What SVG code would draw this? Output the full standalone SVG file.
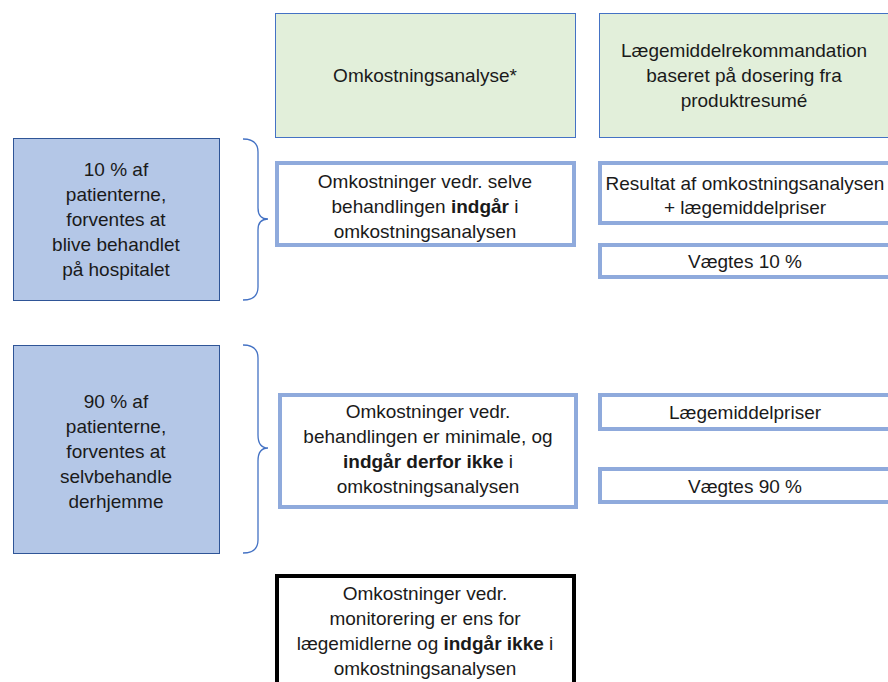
<svg xmlns="http://www.w3.org/2000/svg" width="888" height="682" viewBox="0 0 888 682">
<style>
text{font-family:"Liberation Sans",Arial,sans-serif;font-size:19px;fill:#1a1a1a;text-anchor:middle}
.b{font-weight:bold}
.green{fill:#e2efda;stroke:#4472c4;stroke-width:1}
.left{fill:#b4c7e7;stroke:#2f5597;stroke-width:1}
.thick{fill:#fff;stroke:#8faadc;stroke-width:4}
.black{fill:#fff;stroke:#000;stroke-width:4}
.brace{fill:none;stroke:#4472c4;stroke-width:1.3}
</style>
<rect width="888" height="682" fill="#fff"/>
<g id="header1"><rect class="green" x="275.5" y="13.5" width="300" height="124"/><text x="425" y="82">Omkostningsanalyse*</text></g>
<g id="header2"><rect class="green" x="599.5" y="13.5" width="300" height="124"/><text x="744" y="57">Lægemiddelrekommandation</text><text x="744" y="82">baseret på dosering fra</text><text x="744" y="107">produktresumé</text></g>
<g id="group10"><rect class="left" x="13.5" y="138.5" width="206" height="162"/><text x="116" y="176">10 % af</text><text x="116" y="201">patienterne,</text><text x="116" y="226">forventes at</text><text x="116" y="251">blive behandlet</text><text x="116" y="276">på hospitalet</text></g>
<g id="group90"><rect class="left" x="13.5" y="345.5" width="206" height="208"/><text x="116" y="408">90 % af</text><text x="116" y="433">patienterne,</text><text x="116" y="458">forventes at</text><text x="116" y="483">selvbehandle</text><text x="116" y="508">derhjemme</text></g>
<g id="connectors">
<path class="brace" d="M243 139 Q258 139 258 152 L258 208 Q258 219 268 219 Q258 219 258 230 L258 287 Q258 300 243 300"/>
<path class="brace" d="M243 345 Q258 345 258 358 L258 435 Q258 448 268 448 Q258 448 258 461 L258 540 Q258 553 243 553"/>
</g>
<g id="cost10"><rect class="thick" x="277" y="163" width="297" height="82"/><text x="425" y="188">Omkostninger vedr. selve</text><text x="425" y="213">behandlingen <tspan class="b">indgår</tspan> i</text><text x="425" y="238">omkostningsanalysen</text></g>
<g id="result10"><rect class="thick" x="600" y="163" width="300" height="60"/><text x="745" y="190">Resultat af omkostningsanalysen</text><text x="745" y="214">+ lægemiddelpriser</text></g>
<g id="weight10"><rect class="thick" x="600" y="245" width="300" height="32"/><text x="745" y="268">Vægtes 10 %</text></g>
<g id="cost90"><rect class="thick" x="280" y="395" width="296" height="112"/><text x="428" y="418">Omkostninger vedr.</text><text x="428" y="443">behandlingen er minimale, og</text><text x="428" y="468"><tspan class="b">indgår derfor ikke</tspan> i</text><text x="428" y="493">omkostningsanalysen</text></g>
<g id="price90"><rect class="thick" x="600" y="395" width="300" height="34"/><text x="745" y="419">Lægemiddelpriser</text></g>
<g id="weight90"><rect class="thick" x="600" y="469" width="300" height="33"/><text x="745" y="493">Vægtes 90 %</text></g>
<g id="monitor"><rect class="black" x="277" y="576" width="297" height="120"/><text x="425" y="600">Omkostninger vedr.</text><text x="425" y="625">monitorering er ens for</text><text x="425" y="650">lægemidlerne og <tspan class="b">indgår ikke</tspan> i</text><text x="425" y="675">omkostningsanalysen</text></g>
</svg>
